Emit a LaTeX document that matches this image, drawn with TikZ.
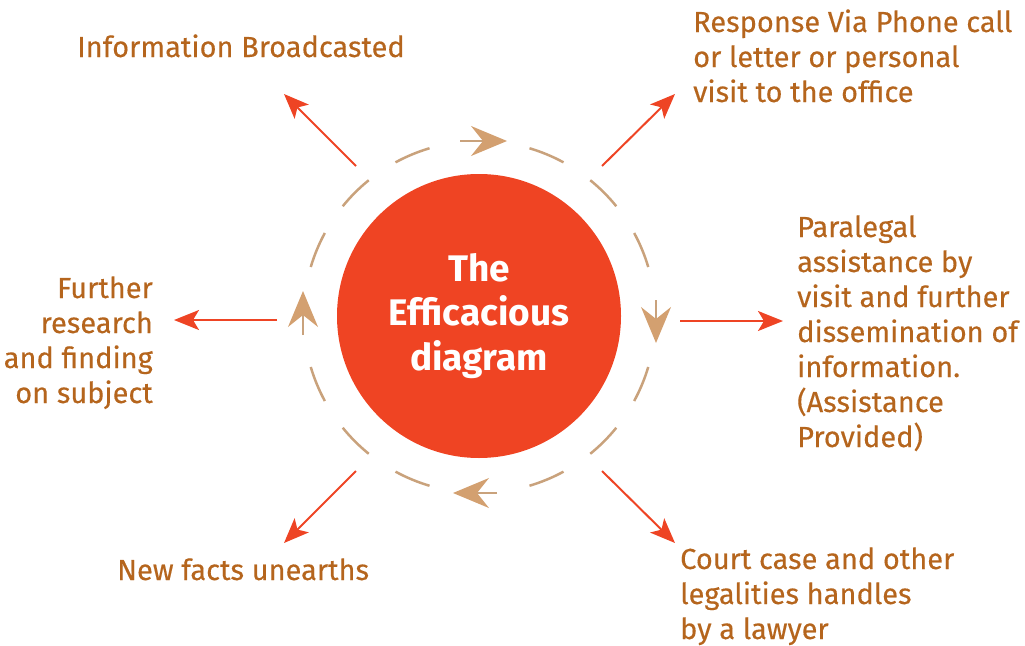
\documentclass[tikz,border=0pt]{standalone}
\usepackage{fontspec}
\setmainfont{Fira Sans}
\newfontfamily\calloutfont[FakeBold=0.3]{Fira Sans}
\usetikzlibrary{arrows.meta}
\definecolor{textbrown}{HTML}{B5651D}
\definecolor{spokered}{HTML}{EE4424}
\definecolor{hubred}{HTML}{EF4423}
\definecolor{ringtan}{HTML}{C9A27C}
\definecolor{ringhead}{HTML}{D3A070}
\begin{document}
\begin{tikzpicture}%
	[x=1pt, y=-1pt,
	outtext/.style={text=textbrown, font=\calloutfont\fontsize{29}{35}\selectfont, inner sep=0pt},
	spoke/.style={draw=spokered, line width=2pt, -{Stealth[length=25pt, width=20pt, inset=6pt]}},
	ringdash/.style={draw=ringtan, line width=2.5pt},
	ringarrow/.style={draw=ringtan, line width=1.5pt, -{Stealth[length=36pt, width=30pt, inset=12pt, color=ringhead, fill=ringhead]}},
	hub/.style={circle, fill=hubred, minimum size=284pt, inner sep=0pt, text=white, align=center, font=\bfseries\fontsize{37}{44.5}\selectfont}]
%
\useasboundingbox (0,0) rectangle (1025,645);
%
\coordinate (ring) at (479.5,317);
\node[hub] (hub) at (479,316) {The\\Efficacious\\diagram};
%%
%% Dashes of the ring
%%
\foreach \a in {22.5,45,67.5,112.5,135,157.5,202.5,225,247.5,292.5,315,337.5}
	\draw[ringdash] ([shift={(\a-6:176)}]ring) arc[start angle=\a-6, end angle=\a+6, radius=176];
%%
%% Arrows of the ring
%%
\coordinate (ring-n-from) at (460,141);
\coordinate (ring-n-to) at (507,141);
\coordinate (ring-e-from) at (656,300);
\coordinate (ring-e-to) at (656,343);
\coordinate (ring-s-from) at (497,493);
\coordinate (ring-s-to) at (453,493);
\coordinate (ring-w-from) at (303,335);
\coordinate (ring-w-to) at (303,291);
\draw[ringarrow] (ring-n-from) -- (ring-n-to);
\draw[ringarrow] (ring-e-from) -- (ring-e-to);
\draw[ringarrow] (ring-s-from) -- (ring-s-to);
\draw[ringarrow] (ring-w-from) -- (ring-w-to);
%%
%% Spokes
%%
\coordinate (nw-from) at (356,166);
\coordinate (nw-to) at (284,94);
\coordinate (ne-from) at (602,166);
\coordinate (ne-to) at (675,94);
\coordinate (e-from) at (680,321);
\coordinate (e-to) at (783,321);
\coordinate (se-from) at (602,471);
\coordinate (se-to) at (675,543);
\coordinate (sw-from) at (356,471);
\coordinate (sw-to) at (284,543);
\coordinate (w-from) at (277,320);
\coordinate (w-to) at (174,320);
\draw[spoke] (nw-from) -- (nw-to);
\draw[spoke] (ne-from) -- (ne-to);
\draw[spoke] (e-from) -- (e-to);
\draw[spoke] (se-from) -- (se-to);
\draw[spoke] (sw-from) -- (sw-to);
\draw[spoke] (w-from) -- (w-to);
%%
%% Texts (base = last line)
%%
\node[outtext, anchor=base west] (broadcast) at (77,57) {Information Broadcasted};
\node[outtext, anchor=base west, align=left] (response) at (693,102) {Response Via Phone call\\or letter or personal\\visit to the office};
\node[outtext, anchor=base west, align=left] (paralegal) at (797,447) {Paralegal\\assistance by\\visit and further\\dissemination of\\information.\\(Assistance\\Provided)};
\node[outtext, anchor=base east, align=right] (research) at (153,403) {Further\\research\\and finding\\on subject};
\node[outtext, anchor=base west] (facts) at (117,580) {New facts unearths};
\node[outtext, anchor=base west, align=left] (court) at (680,639) {Court case and other\\legalities handles\\by a lawyer};
\end{tikzpicture}
\end{document}
